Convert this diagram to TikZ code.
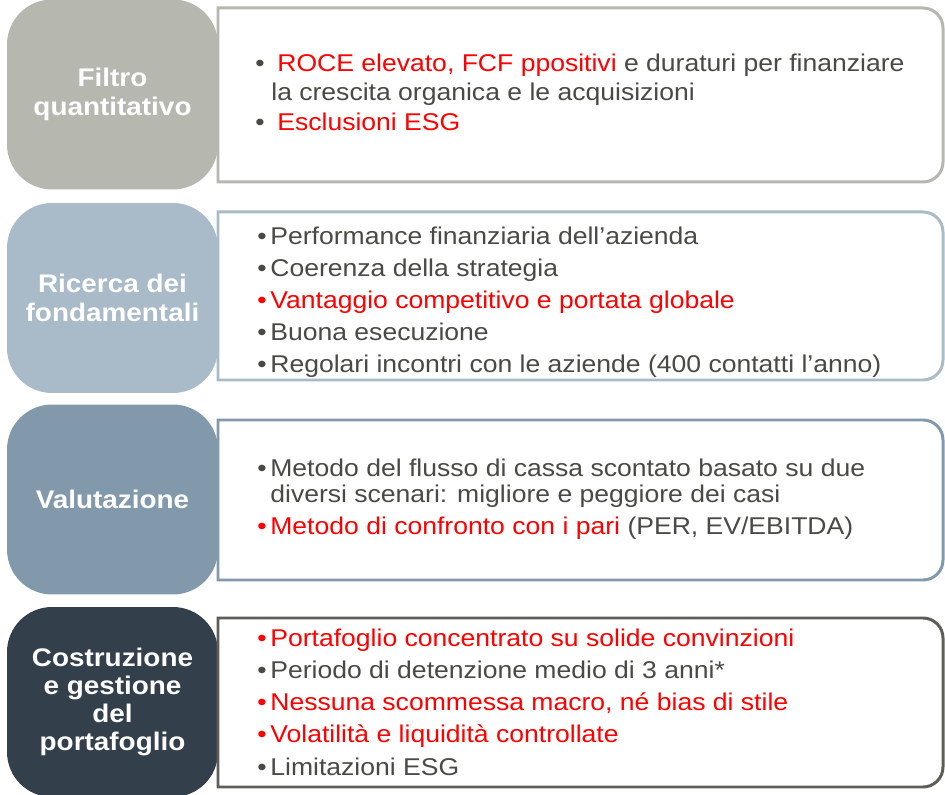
\documentclass[tikz,border=0pt]{standalone}
\usepackage{fontspec}
\setmainfont{Liberation Sans}
\newfontfamily\corpo[FakeStretch=1.095]{Liberation Sans}
\usepackage{tikz}
\usetikzlibrary{positioning}
\definecolor{filtro}{HTML}{B6B8B0}
\definecolor{ricerca}{HTML}{A9BBC8}
\definecolor{valuta}{HTML}{8299AC}
\definecolor{costru}{HTML}{333F4A}
\definecolor{bordo}{HTML}{5E5E59}
\definecolor{testo}{HTML}{4A4A45}
\definecolor{rosso}{HTML}{FF0000}
\tikzset{
  blocco/.style={rounded corners=0.9cm, minimum width=4.22cm, minimum height=3.8cm, inner sep=0pt, text=white, align=center, font=\corpo\bfseries\fontsize{14.5}{16.1}\selectfont},
  riquadro/.style={line width=1.7pt, fill=white},
  riga/.style={anchor=base west, inner sep=0pt, text=testo, font=\corpo\fontsize{13.8}{16}\selectfont},
  punto/.style={anchor=base, inner sep=0pt, text=testo, font=\corpo\fontsize{13.8}{16}\selectfont}
}

\begin{document}
\begin{tikzpicture}[x=0.02cm, y=0.02cm]
	\useasboundingbox (0,0) rectangle (945,794);
	\node[blocco, fill=filtro] (filtro) at (112.5,699.5) {Filtro\\quantitativo};
	\node[blocco, fill=ricerca] (ricerca) at (112.5,496) {Ricerca dei\\fondamentali};
	\node[blocco, fill=valuta] (valuta) at (112.5,294.5) {Valutazione};
	\node[blocco, fill=costru] (costru) at (112.5,92) {Costruzione\\e gestione\\del\\portafoglio};
	\draw[riquadro, draw=filtro] (218,612) -- (218,786) -- (923,786) arc[start angle=90, end angle=0, radius=20] -- (943,632) arc[start angle=0, end angle=-90, radius=20] -- cycle;
	\draw[riquadro, draw=ricerca] (218,414) -- (218,582) -- (923,582) arc[start angle=90, end angle=0, radius=20] -- (943,434) arc[start angle=0, end angle=-90, radius=20] -- cycle;
	\draw[riquadro, draw=valuta] (218,214) -- (218,374) -- (923,374) arc[start angle=90, end angle=0, radius=20] -- (943,234) arc[start angle=0, end angle=-90, radius=20] -- cycle;
	\draw[riquadro, draw=bordo] (218,7) -- (218,176) -- (923,176) arc[start angle=90, end angle=0, radius=20] -- (943,27) arc[start angle=0, end angle=-90, radius=20] -- cycle;
	\node[punto] (p1a) at (260,722) {•};
	\node[riga] (t1a) at (277,722) {\textcolor{rosso}{ROCE elevato, FCF ppositivi} e duraturi per finanziare};
	\node[riga] (t1b) at (271,693) {la crescita organica e le acquisizioni};
	\node[punto] (p1c) at (260,663) {•};
	\node[riga, text=rosso] (t1c) at (277,663) {Esclusioni ESG};
	\node[punto] (p2a) at (262,549) {•};
	\node[riga] (t2a) at (270,549) {Performance finanziaria dell’azienda};
	\node[punto] (p2b) at (262,517) {•};
	\node[riga] (t2b) at (270,517) {Coerenza della strategia};
	\node[punto, text=rosso] (p2c) at (262,485) {•};
	\node[riga, text=rosso] (t2c) at (270,485) {Vantaggio competitivo e portata globale};
	\node[punto] (p2d) at (262,453) {•};
	\node[riga] (t2d) at (270,453) {Buona esecuzione};
	\node[punto] (p2e) at (262,421) {•};
	\node[riga] (t2e) at (270,421) {Regolari incontri con le aziende (400 contatti l’anno)};
	\node[punto] (p3a) at (262,317) {•};
	\node[riga] (t3a) at (270,317) {Metodo del flusso di cassa scontato basato su due};
	\node[riga] (t3b) at (270,291) {diversi scenari: migliore e peggiore dei casi};
	\node[punto, text=rosso] (p3c) at (262,259) {•};
	\node[riga] (t3c) at (270,259) {\textcolor{rosso}{Metodo di confronto con i pari} (PER, EV/EBITDA)};
	\node[punto, text=rosso] (p4a) at (262,148) {•};
	\node[riga, text=rosso] (t4a) at (270,148) {Portafoglio concentrato su solide convinzioni};
	\node[punto] (p4b) at (262,116) {•};
	\node[riga] (t4b) at (270,116) {Periodo di detenzione medio di 3 anni*};
	\node[punto, text=rosso] (p4c) at (262,84) {•};
	\node[riga, text=rosso] (t4c) at (270,84) {Nessuna scommessa macro, né bias di stile};
	\node[punto, text=rosso] (p4d) at (262,52) {•};
	\node[riga, text=rosso] (t4d) at (270,52) {Volatilità e liquidità controllate};
	\node[punto] (p4e) at (262,19) {•};
	\node[riga] (t4e) at (270,19) {Limitazioni ESG};
\end{tikzpicture}
\end{document}
